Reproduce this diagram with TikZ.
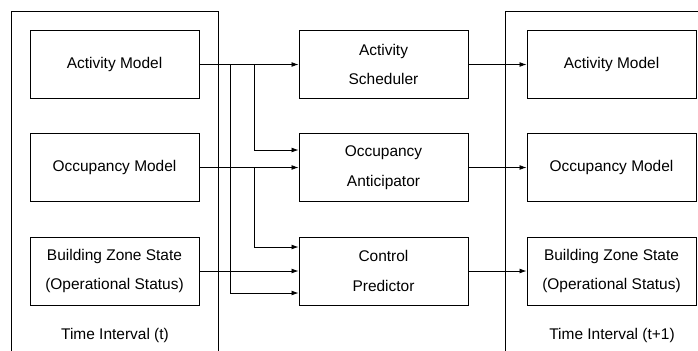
\documentclass[tikz,border=0pt]{standalone}
\usepackage{fontspec}
\setmainfont{Liberation Sans}
\usetikzlibrary{arrows.meta,calc}

\tikzset{
  box/.style={draw, line width=0.6pt, minimum width=4.225cm, minimum height=1.7cm,
    align=center, font=\fontsize{11}{21}\selectfont},
  flow/.style={draw, line width=0.6pt, -{Latex[length=5pt,width=3.5pt]}},
  frame/.style={draw, line width=0.6pt},
  tlabel/.style={font=\fontsize{11}{13}\selectfont},
}

\begin{document}
\begin{tikzpicture}[x=0.025cm,y=-0.025cm]
\useasboundingbox (0,0) rectangle (698,350);

% time interval frames
\draw[frame] (11,352) -- (11,11) -- (218,11) -- (218,352);
\draw[frame] (505,352) -- (505,11) -- (700,11);

% interval t
\node[box] (am) at (114.5,64.5) {Activity Model};
\node[box] (om) at (114.5,167.5) {Occupancy Model};
\node[box] (bz) at (114.5,271) {Building Zone State\\(Operational Status)};
\node[tlabel] (t0) at (115,335) {Time Interval (t)};

% predictors
\node[box] (as) at (383.5,64.5) {Activity\\Scheduler};
\node[box] (oa) at (383.5,167.5) {Occupancy\\Anticipator};
\node[box] (cp) at (383.5,271) {Control\\Predictor};

% interval t+1
\node[box] (am2) at (611.5,64.5) {Activity Model};
\node[box] (om2) at (611.5,167.5) {Occupancy Model};
\node[box] (bz2) at (611.5,271) {Building Zone State\\(Operational Status)};
\node[tlabel] (t1) at (612,335) {Time Interval (t+1)};

% branch points
\coordinate (ja) at (230,64.5);
\coordinate (jb) at (254,64.5);
\coordinate (jc) at (254,167.5);

\path[flow] (am) -- (as);
\path[flow] (jb) |- ($(oa.west)+(0,-17.5)$);
\path[flow] (ja) |- ($(cp.west)+(0,22)$);
\path[flow] (om) -- (oa);
\path[flow] (jc) |- ($(cp.west)+(0,-24)$);
\path[flow] (bz) -- (cp);

\path[flow] (as) -- (am2);
\path[flow] (oa) -- (om2);
\path[flow] (cp) -- (bz2);
\end{tikzpicture}
\end{document}
